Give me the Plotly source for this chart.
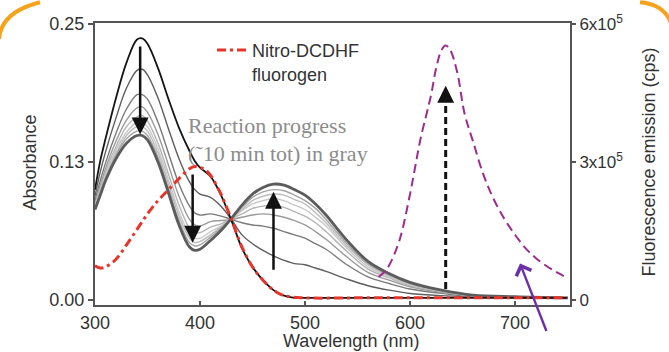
import plotly.graph_objects as go

# ---------------- data ----------------
wl = [300, 305, 310, 320, 330, 340, 345, 350, 360, 370, 380, 390, 395, 400, 410, 420,
      430, 440, 450, 460, 470, 480, 490, 500, 510, 520, 540, 560, 580, 600, 630, 660, 700, 750]

abs_initial = [0.100, 0.126, 0.146, 0.183, 0.215, 0.236, 0.237, 0.232, 0.210, 0.182, 0.156, 0.135, 0.126, 0.120, 0.112, 0.095,
               0.072, 0.047, 0.030, 0.018, 0.009, 0.004, 0.002, 0.002, 0.002, 0.002, 0.002, 0.002, 0.002, 0.002, 0.002, 0.002, 0.002, 0.002]
abs_t1 = [0.094, 0.116, 0.134, 0.165, 0.192, 0.208, 0.209, 0.204, 0.183, 0.155, 0.128, 0.107, 0.100, 0.096, 0.093, 0.085,
          0.073, 0.059, 0.051, 0.045, 0.040, 0.036, 0.033, 0.032, 0.029, 0.026, 0.019, 0.013, 0.009, 0.006, 0.004, 0.003, 0.002, 0.002]
abs_t2 = [0.090, 0.108, 0.124, 0.151, 0.173, 0.186, 0.186, 0.182, 0.161, 0.133, 0.105, 0.085, 0.079, 0.077, 0.078, 0.076,
          0.073, 0.070, 0.068, 0.067, 0.065, 0.062, 0.059, 0.056, 0.051, 0.046, 0.032, 0.021, 0.015, 0.010, 0.006, 0.003, 0.003, 0.002]
abs_t3 = [0.087, 0.104, 0.119, 0.144, 0.163, 0.174, 0.175, 0.170, 0.150, 0.122, 0.094, 0.073, 0.068, 0.067, 0.071, 0.072,
          0.073, 0.075, 0.077, 0.078, 0.077, 0.075, 0.072, 0.068, 0.062, 0.055, 0.039, 0.025, 0.018, 0.012, 0.007, 0.004, 0.003, 0.002]
abs_t4 = [0.086, 0.101, 0.116, 0.139, 0.157, 0.166, 0.167, 0.162, 0.142, 0.114, 0.086, 0.065, 0.061, 0.061, 0.066, 0.069,
          0.074, 0.078, 0.083, 0.085, 0.086, 0.084, 0.080, 0.076, 0.070, 0.062, 0.044, 0.028, 0.020, 0.013, 0.008, 0.004, 0.003, 0.002]
abs_t5 = [0.085, 0.099, 0.113, 0.136, 0.152, 0.161, 0.161, 0.157, 0.137, 0.109, 0.080, 0.060, 0.056, 0.056, 0.062, 0.067,
          0.074, 0.081, 0.087, 0.090, 0.092, 0.090, 0.086, 0.082, 0.075, 0.067, 0.047, 0.030, 0.021, 0.014, 0.008, 0.004, 0.003, 0.002]
abs_t6 = [0.084, 0.098, 0.111, 0.133, 0.149, 0.157, 0.157, 0.153, 0.133, 0.105, 0.076, 0.056, 0.052, 0.053, 0.059, 0.066,
          0.074, 0.082, 0.090, 0.094, 0.096, 0.095, 0.091, 0.087, 0.079, 0.070, 0.049, 0.032, 0.022, 0.015, 0.008, 0.004, 0.003, 0.002]
abs_t7 = [0.083, 0.097, 0.110, 0.131, 0.146, 0.153, 0.153, 0.149, 0.129, 0.101, 0.072, 0.052, 0.049, 0.050, 0.057, 0.065,
          0.074, 0.084, 0.093, 0.098, 0.100, 0.099, 0.095, 0.090, 0.083, 0.073, 0.051, 0.033, 0.023, 0.015, 0.009, 0.004, 0.003, 0.002]
abs_final = [0.082, 0.095, 0.108, 0.128, 0.142, 0.149, 0.149, 0.145, 0.125, 0.097, 0.068, 0.048, 0.045, 0.046, 0.054, 0.063,
             0.074, 0.086, 0.096, 0.102, 0.105, 0.104, 0.100, 0.095, 0.087, 0.077, 0.054, 0.035, 0.024, 0.016, 0.009, 0.0045, 0.003, 0.002]

fluorogen_wl = [300, 305, 310, 320, 330, 340, 350, 360, 370, 380, 390, 395, 400, 405, 410, 415, 420,
                430, 440, 450, 460, 470, 480, 500, 550, 600, 650, 700, 750]
abs_fluorogen = [0.031, 0.029, 0.030, 0.037, 0.050, 0.064, 0.078, 0.090, 0.100, 0.110, 0.119, 0.121, 0.120, 0.118, 0.113, 0.105, 0.096,
                 0.073, 0.048, 0.030, 0.018, 0.009, 0.004, 0.002, 0.002, 0.002, 0.002, 0.002, 0.002]

em_wl = [570, 575, 580, 590, 600, 605, 610, 620, 625, 630, 634, 638, 645, 652, 660, 670, 680, 690, 700, 710, 720, 730, 740, 750]
emission = [0.50e5, 0.60e5, 0.75e5, 1.30e5, 2.30e5, 2.90e5, 3.50e5, 4.45e5, 5.05e5, 5.43e5, 5.53e5, 5.45e5, 4.95e5,
            4.05e5, 3.45e5, 2.72e5, 2.18e5, 1.76e5, 1.42e5, 1.13e5, 0.91e5, 0.74e5, 0.60e5, 0.48e5]

x_ticks = [300, 400, 500, 600, 700]
y_ticks = [0, 0.125, 0.25]
y_ticktext = ["0.00", "0.13", "0.25"]
y2_ticks = [0, 3e5, 6e5]
y2_ticktext = ["0", "3x10<sup>5</sup>", "6x10<sup>5</sup>"]

# ---------------- figure ----------------
W, H = 669, 352
ML, MR, MT, MB = 95, 99, 20, 47
PW, PH = W - ML - MR, H - MT - MB


def px(x):
    return (x - ML) / PW


def py(y):
    return (H - MB - y) / PH


fig = go.Figure()

gray_series = [
    (abs_t1, "#5e5e5e", 1.4),
    (abs_t2, "#7a7a7a", 1.4),
    (abs_t3, "#9a9a9a", 1.4),
    (abs_t4, "#b4b4b4", 1.4),
    (abs_t5, "#c8c8c8", 1.4),
    (abs_t6, "#bcbcbc", 1.4),
    (abs_t7, "#a4a4a4", 1.4),
]
for ys, col, w in gray_series:
    fig.add_trace(go.Scatter(x=wl, y=ys, mode="lines", line=dict(color=col, width=w, shape="spline"),
                             showlegend=False, hoverinfo="skip"))
fig.add_trace(go.Scatter(x=wl, y=abs_final, mode="lines", line=dict(color="#5c5c5c", width=2.8, shape="spline"),
                         showlegend=False))
fig.add_trace(go.Scatter(x=wl, y=abs_initial, mode="lines", line=dict(color="#151515", width=1.8, shape="spline"),
                         showlegend=False))
fig.add_trace(go.Scatter(x=fluorogen_wl, y=abs_fluorogen, mode="lines",
                         line=dict(color="#e8342b", width=3, dash="9px,4px,3px,4px", shape="spline"),
                         name="Nitro-DCDHF<br>fluorogen", showlegend=True))
fig.add_trace(go.Scatter(x=em_wl, y=emission, mode="lines", yaxis="y2",
                         line=dict(color="#9b2d8e", width=2, dash="9px,5px", shape="spline"),
                         showlegend=False))

font_main = "Liberation Sans, Arial, sans-serif"
txt_col = "#333333"
ax_col = "#555555"

fig.update_layout(
    width=W, height=H,
    margin=dict(l=ML, r=MR, t=MT, b=MB),
    paper_bgcolor="white", plot_bgcolor="white",
    font=dict(family=font_main, size=18, color=txt_col),
    xaxis=dict(range=[300, 752.4], tickvals=x_ticks, ticks="inside", ticklen=4, tickwidth=1.5,
               tickcolor=ax_col, showline=True, linecolor=ax_col, linewidth=2, mirror=True,
               showgrid=False, zeroline=False, tickfont=dict(size=18, color=txt_col)),
    yaxis=dict(range=[-0.00448, 0.2509], tickvals=y_ticks, ticktext=y_ticktext, ticks="outside", ticklen=5,
               tickwidth=1.5, tickcolor=ax_col, showline=True, linecolor=ax_col, linewidth=2,
               showgrid=False, zeroline=False, tickfont=dict(size=18, color=txt_col)),
    yaxis2=dict(range=[-10750, 602160], overlaying="y", side="right", tickvals=y2_ticks, ticktext=y2_ticktext,
                ticks="outside", ticklen=4, tickwidth=1.5, tickcolor=ax_col, showline=True, linecolor=ax_col,
                linewidth=2, showgrid=False, zeroline=False, tickfont=dict(size=17, color=txt_col)),
    legend=dict(x=px(212), y=py(29), xanchor="left", yanchor="top", bgcolor="rgba(0,0,0,0)",
                font=dict(size=18, color=txt_col), itemwidth=30, valign="top", tracegroupgap=0),
    showlegend=True,
)

serif = "Liberation Serif, Times New Roman, serif"
annotations = [
    dict(text="Wavelength (nm)", x=px(351), y=py(341), xref="paper", yref="paper", showarrow=False,
         xanchor="center", yanchor="middle", font=dict(size=18, color=txt_col)),
    dict(text="Absorbance", x=px(30), y=py(161), xref="paper", yref="paper", showarrow=False,
         textangle=-90, xanchor="center", yanchor="middle", font=dict(size=18, color=txt_col)),
    dict(text="Fluorescence emission (cps)", x=px(649), y=py(161), xref="paper", yref="paper", showarrow=False,
         textangle=-90, xanchor="center", yanchor="middle", font=dict(size=18, color=txt_col)),
    dict(text="Reaction progress", x=px(186), y=py(124), xref="paper", yref="paper", showarrow=False,
         xanchor="left", yanchor="middle", font=dict(family=serif, size=22, color="#8c8c8c")),
    dict(text="(\u02dc10 min tot) in gray", x=px(186), y=py(152), xref="paper", yref="paper", showarrow=False,
         xanchor="left", yanchor="middle", font=dict(family=serif, size=22, color="#8c8c8c")),
]

arrow_common = dict(text="", showarrow=True, arrowhead=2, arrowsize=1.35, arrowwidth=2.5, arrowcolor="#111111",
                    xref="x", yref="y", axref="x", ayref="y", standoff=0, startstandoff=0)
annotations += [
    dict(x=343, y=0.150, ax=343, ay=0.231, **arrow_common),
    dict(x=393, y=0.052, ax=393, ay=0.115, **arrow_common),
    dict(x=470, y=0.098, ax=470, ay=0.026, **arrow_common),
    dict(x=634, y=0.194, ax=634, ay=0.180, **arrow_common),
    dict(text="", showarrow=True, arrowhead=4, arrowsize=1.3, arrowwidth=2.4, arrowcolor="#6b2fa8",
         x=px(520), y=py(263), xref="paper", yref="paper", ax=27, ay=69, standoff=0),
]
fig.update_layout(annotations=annotations)

shapes = [
    dict(type="line", xref="x", yref="y", x0=634, x1=634, y0=0.010, y1=0.182,
         line=dict(color="#111111", width=3, dash="7px,4px")),
    dict(type="path", xref="paper", yref="paper",
         path=f"M {px(-1)},{py(36)} Q {px(1)},{py(9)} {px(40)},{py(-1)}",
         line=dict(color="#f5a31c", width=4)),
    dict(type="path", xref="paper", yref="paper",
         path=f"M {px(640)},{py(-1)} Q {px(664)},{py(1)} {px(671)},{py(20)}",
         line=dict(color="#f5a31c", width=4)),
]
fig.update_layout(shapes=shapes)

fig.write_html("out.html", config={"displayModeBar": False},
               post_script="document.body.style.margin='0px';document.body.style.overflow='hidden';")
